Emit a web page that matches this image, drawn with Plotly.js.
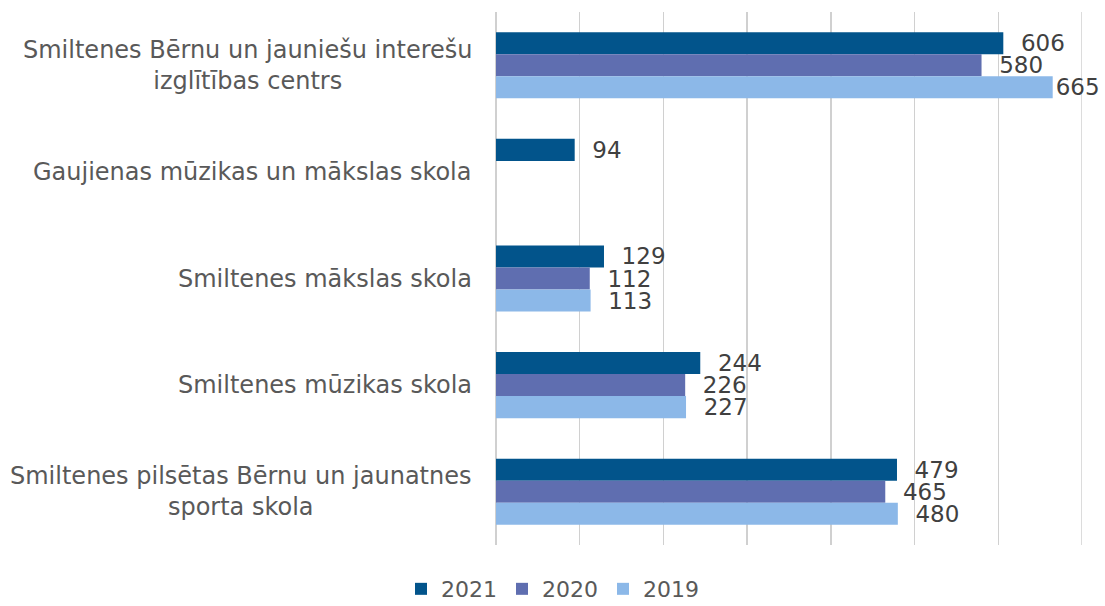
<!DOCTYPE html>
<html>
<head>
<meta charset="utf-8">
<script src="https://cdn.plot.ly/plotly-3.0.1.min.js"></script>
<style>html,body{margin:0;padding:0;background:#fff;}#chart{width:1105px;height:606px;}</style>
</head>
<body>
<div id="chart"></div>
<script>
const categories = [
  "Smiltenes Bērnu un jauniešu interešu<br>izglītības centrs",
  "Gaujienas mūzikas un mākslas skola",
  "Smiltenes mākslas skola",
  "Smiltenes mūzikas skola",
  "Smiltenes pilsētas Bērnu un jaunatnes<br>sporta skola"
];
const seriesNames = ["2021", "2020", "2019"];
const values2021 = [606, 94, 129, 244, 479];
const values2020 = [580, null, 112, 226, 465];
const values2019 = [665, null, 113, 227, 480];
const colors = ["#02548b", "#5f6eb0", "#8cb8e8"];

const allValues = [values2021, values2020, values2019];
const font = "DejaVu Sans, Verdana, sans-serif";
const axisMax = 700;

const traces = allValues.map((vals, i) => ({
  type: "bar",
  orientation: "h",
  name: seriesNames[i],
  y: categories,
  x: vals,
  marker: {color: colors[i]},
  text: vals.map(v => v == null ? "" : String(v)),
  // labels near the right edge get no extra padding so they stay on the page
  texttemplate: vals.map(v => (v != null && v > axisMax * 0.9) ? "%{text}" : "\u00a0\u00a0%{text}"),
  textposition: "outside",
  constraintext: "none",
  cliponaxis: false,
  textfont: {family: font, size: 23, color: "#404040"},
  hoverinfo: "skip"
}));

const annotations = categories.map(c => ({
  xref: "paper", yref: "y",
  x: 0, y: c,
  xanchor: "right", yanchor: "middle",
  xshift: -22,
  text: c,
  align: "center",
  showarrow: false,
  font: {family: font, size: 24, color: "#595959"}
}));

const layout = {
  width: 1105, height: 606,
  margin: {l: 496, r: 23, t: 12, b: 61},
  paper_bgcolor: "#ffffff",
  plot_bgcolor: "#ffffff",
  barmode: "group",
  bargap: 0.38,
  bargroupgap: 0,
  showlegend: true,
  legend: {
    orientation: "h",
    xref: "container", yref: "container",
    x: 0.5, xanchor: "center",
    y: 0.028, yanchor: "middle",
    font: {family: font, size: 22, color: "#595959"},
    itemwidth: 30,
    tracegroupgap: 0,
    traceorder: "normal"
  },
  xaxis: {
    range: [0, axisMax],
    dtick: 100,
    tick0: 0,
    showgrid: true,
    gridcolor: "#d0d0d0",
    gridwidth: 1.5,
    zeroline: true,
    zerolinecolor: "#d0d0d0",
    zerolinewidth: 1.5,
    showticklabels: false,
    showline: false,
    fixedrange: true
  },
  yaxis: {
    type: "category",
    categoryorder: "array",
    categoryarray: categories,
    autorange: "reversed",
    showticklabels: false,
    showgrid: false,
    zeroline: false,
    showline: false,
    fixedrange: true
  },
  shapes: [{
    type: "line", xref: "x", yref: "paper",
    x0: axisMax, x1: axisMax, y0: 0, y1: 1,
    line: {color: "#d0d0d0", width: 1.5},
    layer: "below"
  }],
  annotations: annotations,
  font: {family: font}
};

Plotly.newPlot("chart", traces, layout, {displayModeBar: false, staticPlot: true});
</script>
</body>
</html>
